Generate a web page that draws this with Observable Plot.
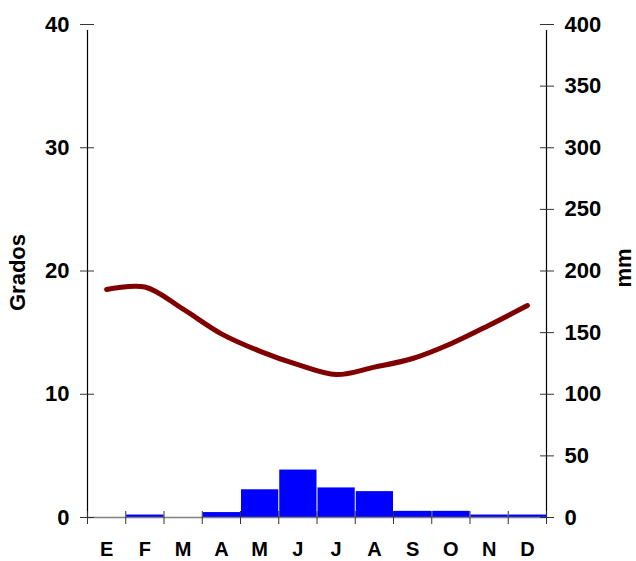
<!DOCTYPE html>
<html>
<head>
<meta charset="utf-8">
<script src="https://cdn.jsdelivr.net/npm/d3@7"></script>
<script src="https://cdn.jsdelivr.net/npm/@observablehq/plot@0.6"></script>
<style>
  html, body { margin: 0; padding: 0; background: #fff; }
  svg { display: block; }
</style>
</head>
<body>
<div id="chart"></div>
<script>
const months = ["E", "F", "M", "A", "M", "J", "J", "A", "S", "O", "N", "D"];
const tempC = [18.5, 18.7, 16.9, 14.9, 13.5, 12.4, 11.6, 12.2, 12.9, 14.1, 15.6, 17.2];
const precipMm = [0, 2, 0, 4, 22.5, 38.5, 24, 21, 5, 5, 2, 2];
const leftTicks = [0, 10, 20, 30, 40];
const rightTicksMm = [0, 50, 100, 150, 200, 250, 300, 350, 400];

const rows = months.map((m, i) => ({i, month: m, temp: tempC[i], mm: precipMm[i]}));
const mmToY = mm => mm / 10;

const font = "'Liberation Sans', Arial, sans-serif";

const chart = Plot.plot({
  width: 636,
  height: 561,
  marginLeft: 87,
  marginRight: 90,
  marginTop: 24,
  marginBottom: 44,
  style: {fontFamily: font, fontSize: "22px", fontWeight: "bold", color: "#000", background: "#fff"},
  x: {type: "linear", domain: [0, 12], axis: null},
  y: {domain: [0, 40], axis: null},
  marks: [
    // precipitation bars
    Plot.rectY(rows, {x1: d => d.i, x2: d => d.i + 1, y: d => mmToY(d.mm), fill: "#0000ff", insetLeft: 1, insetRight: 0}),
    // baseline
    Plot.ruleY([0], {stroke: "#808080", strokeWidth: 1.5}),
    // vertical axis lines
    Plot.ruleX([0, 12], {y1: 0, y2: 40, stroke: "#000", strokeWidth: 1.2, insetBottom: -6}),
    // left axis ticks (crossing)
    Plot.axisY({anchor: "left", ticks: leftTicks, tickSize: 14, dx: 7, tickFormat: () => "", label: null, stroke: "#333"}),
    // left axis labels
    Plot.axisY({anchor: "left", ticks: leftTicks, tickSize: 0, tickPadding: 18, label: null, fontSize: 22, fontWeight: "bold"}),
    // right axis ticks (crossing)
    Plot.axisY({anchor: "right", ticks: rightTicksMm.map(mmToY), tickSize: 14, dx: -7, tickFormat: () => "", label: null, stroke: "#333"}),
    // right axis labels in mm
    Plot.axisY({anchor: "right", ticks: rightTicksMm.map(mmToY), tickSize: 0, tickPadding: 18, tickFormat: v => String(Math.round(v * 10)), label: null, fontSize: 22, fontWeight: "bold"}),
    // x axis ticks at month boundaries
    Plot.axisX({anchor: "bottom", ticks: d3.range(0, 13), tickSize: 13, dy: -6, tickFormat: () => "", label: null, stroke: "#333"}),
    // month labels
    Plot.axisX({anchor: "bottom", ticks: rows.map(d => d.i + 0.5), tickSize: 0, tickPadding: 24, tickFormat: v => months[Math.floor(v)], label: null, fontSize: 20, fontWeight: "bold"}),
    // temperature line
    Plot.line(rows, {x: d => d.i + 0.5, y: "temp", stroke: "#800000", strokeWidth: 5, curve: "catmull-rom", strokeLinecap: "round"}),
    // axis titles
    Plot.text(["Grados"], {frameAnchor: "left", textAnchor: "middle", rotate: -90, dx: -69.5, dy: 1.5, fontSize: 22, fontWeight: "bold"}),
    Plot.text(["mm"], {frameAnchor: "right", textAnchor: "middle", rotate: -90, dx: 77, dy: -3, fontSize: 22, fontWeight: "bold"})
  ]
});

document.getElementById("chart").appendChild(chart);
</script>
</body>
</html>
